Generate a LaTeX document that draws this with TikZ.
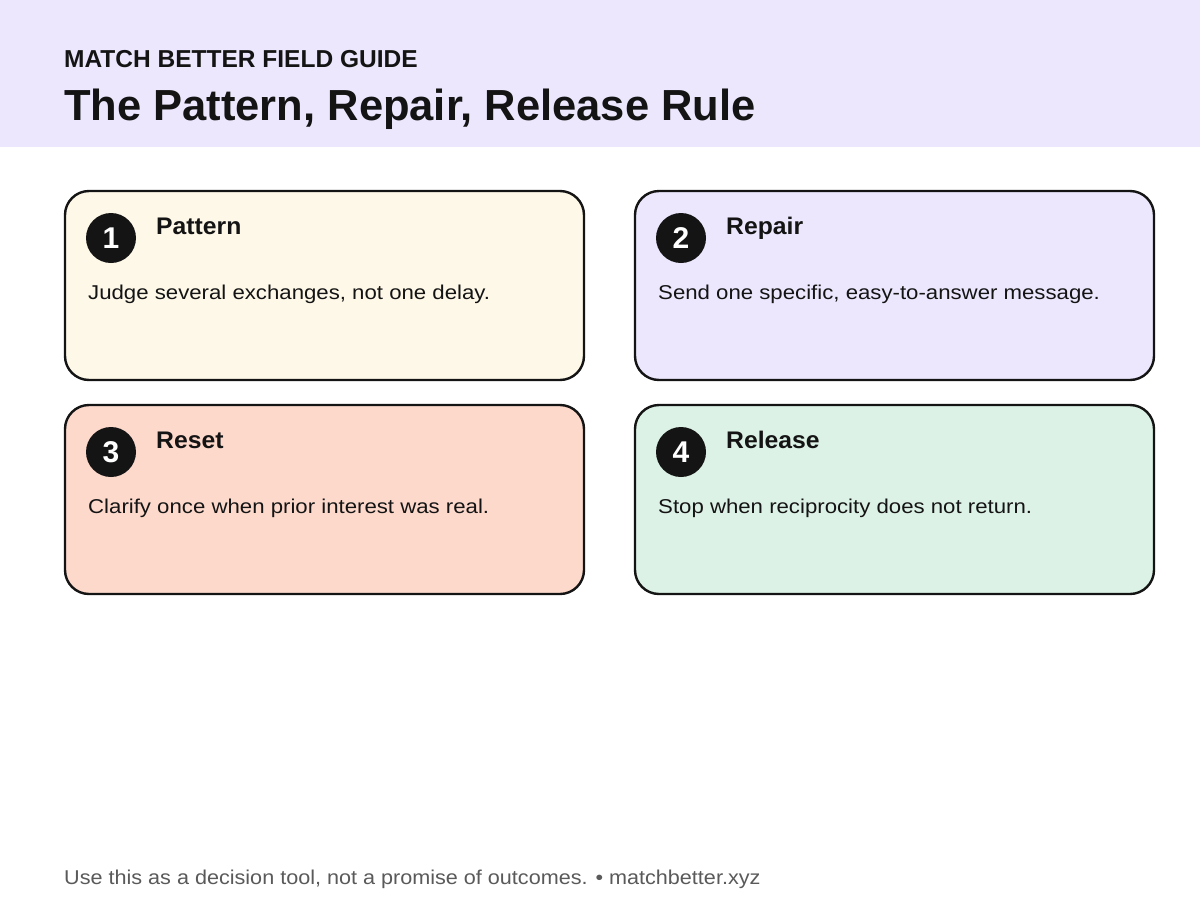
\documentclass[tikz,border=0pt]{standalone}
\usepackage{fontspec}
\setmainfont{Liberation Sans}
\newfontfamily\bodyfont[FakeStretch=1.11]{Liberation Sans}
\newfontfamily\footfont[FakeStretch=1.08]{Liberation Sans}
\newfontfamily\headfont[FakeStretch=1.03]{Liberation Sans}
\definecolor{band}{HTML}{ECE7FD}
\definecolor{ink}{HTML}{141414}
\definecolor{cream}{HTML}{FEF8E8}
\definecolor{lav}{HTML}{ECE7FD}
\definecolor{peach}{HTML}{FDD9CC}
\definecolor{mint}{HTML}{DDF2E6}
\definecolor{foot}{HTML}{5A5A5A}
\tikzset{
  card/.style={draw=ink, line width=2.4pt, rounded corners=24pt},
  badge/.style={circle, fill=ink, minimum size=50pt, inner sep=0pt, text=white, font=\fontsize{30}{30}\selectfont\bfseries},
  head/.style={anchor=base west, inner sep=0pt, text=ink, font=\headfont\fontsize{24}{24}\selectfont\bfseries},
  body/.style={anchor=base west, inner sep=0pt, text=ink, font=\bodyfont\fontsize{20}{20}\selectfont},
}
\begin{document}
\begin{tikzpicture}[x=1pt,y=-1pt]
\useasboundingbox (0,0) rectangle (1200,900);
\fill[white] (0,0) rectangle (1200,900);
\fill[band] (0,0) rectangle (1200,147);
\node[anchor=base west, inner sep=0pt, text=ink, font=\fontsize{24.5}{24.5}\selectfont\bfseries] (kicker) at (64,67) {MATCH BETTER FIELD GUIDE};
\node[anchor=base west, inner sep=0pt, text=ink, font=\fontsize{43.5}{43.5}\selectfont\bfseries] (title) at (64,120) {The Pattern, Repair, Release Rule};

% cards
\draw[card, fill=cream] (65,191) rectangle (584,380);
\draw[card, fill=lav] (635,191) rectangle (1154,380);
\draw[card, fill=peach] (65,405) rectangle (584,594);
\draw[card, fill=mint] (635,405) rectangle (1154,594);

\node[badge] (b1) at (111,238) {1};
\node[badge] (b2) at (681,238) {2};
\node[badge] (b3) at (111,452) {3};
\node[badge] (b4) at (681,452) {4};

\node[head] (h1) at (156,234) {Pattern};
\node[head] (h2) at (726,234) {Repair};
\node[head] (h3) at (156,448) {Reset};
\node[head] (h4) at (726,448) {Release};

\node[body] (t1) at (88,299) {Judge several exchanges, not one delay.};
\node[body] (t2) at (658,299) {Send one specific, easy-to-answer message.};
\node[body] (t3) at (88,513) {Clarify once when prior interest was real.};
\node[body] (t4) at (658,513) {Stop when reciprocity does not return.};

\node[anchor=base west, inner sep=0pt, text=foot, font=\footfont\fontsize{20}{20}\selectfont] (footer) at (64,884) {Use this as a decision tool, not a promise of outcomes. \textbullet{} matchbetter.xyz};
\end{tikzpicture}
\end{document}
